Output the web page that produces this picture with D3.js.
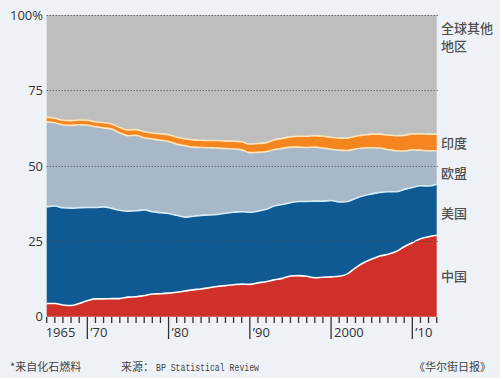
<!DOCTYPE html>
<html><head><meta charset="utf-8">
<script src="https://cdn.jsdelivr.net/npm/d3@7"></script>
<style>
html,body{margin:0;padding:0;background:#eef2f7;}
svg{display:block;}
</style></head>
<body>
<svg id="c" width="500" height="378"></svg>
<script>
const years = d3.range(1965, 2014);
const china = [4.4,4.4,3.9,3.7,4.4,5.3,5.9,5.9,6.0,6.0,6.5,6.6,7.0,7.5,7.6,7.8,8.1,8.5,8.9,9.2,9.6,10.0,10.3,10.6,10.8,10.7,11.2,11.6,12.2,12.7,13.5,13.6,13.4,12.9,13.1,13.2,13.4,14.2,16.2,17.9,19.1,20.1,20.7,21.6,23.2,24.5,25.8,26.5,27.0];
const usa = [32.0,32.3,32.2,32.3,31.7,30.9,30.3,30.5,29.9,29.3,28.5,28.5,28.4,27.3,26.9,26.4,25.5,24.5,24.4,24.4,24.1,23.9,24.0,24.0,24.0,23.9,23.8,24.0,24.5,24.5,24.3,24.6,24.8,25.4,25.2,25.3,24.6,24.0,23.0,22.2,21.6,21.1,20.7,19.8,19.0,18.3,17.6,16.8,16.9];
const europe = [28.2,27.6,27.5,27.4,27.5,27.3,26.8,26.2,26.3,25.6,25.0,25.0,23.9,24.1,24.0,23.9,23.6,23.7,22.9,22.5,22.3,22.0,21.4,21.0,20.5,19.8,19.5,19.1,18.7,18.6,18.4,18.0,17.9,17.9,17.6,17.0,17.2,16.9,16.4,15.8,15.3,14.7,14.0,13.6,12.7,12.5,11.8,11.7,11.1];
const india = [1.5,1.5,1.5,1.6,1.6,1.6,1.6,1.7,1.7,1.8,1.9,1.9,2.0,2.0,2.1,2.2,2.3,2.3,2.4,2.4,2.4,2.5,2.5,2.6,2.7,2.8,2.9,3.0,3.2,3.3,3.4,3.6,3.7,3.8,3.9,4.0,4.0,4.1,4.2,4.3,4.5,4.6,4.8,5.0,5.2,5.3,5.4,5.5,5.5];
const rest = [33.9,34.2,34.9,35.0,34.8,34.9,35.4,35.7,36.1,37.3,38.1,38.0,38.7,39.1,39.4,39.7,40.5,41.0,41.4,41.5,41.6,41.6,41.8,41.8,42.0,42.8,42.6,42.3,41.4,40.9,40.4,40.2,40.2,40.0,40.2,40.5,40.8,40.8,40.2,39.8,39.5,39.5,39.8,40.0,39.9,39.4,39.4,39.5,39.5];
const seriesKeys = ["china","usa","europe","india","rest"];
const seriesLabels = {rest:["全球其他","地区"], india:["印度"], europe:["欧盟"], usa:["美国"], china:["中国"]};
const yTicks = [0,25,50,75,100];
const xMajor = [1970,1980,1990,2000,2010];
const xLabels = [[1965,"1965"],[1970,"’70"],[1980,"’80"],[1990,"’90"],[2000,"2000"],[2010,"’10"]];

const colors = {china:"#d0302a", usa:"#0f5a93", europe:"#a9b8c9", india:"#f5861f", rest:"#bebebe"};

const table = years.map((yr,i)=>({year:yr, china:china[i], usa:usa[i], europe:europe[i], india:india[i], rest:rest[i]}));

const svg = d3.select("#c");
const x = d3.scaleLinear().domain([1965,2013]).range([46.7,436.7]);
const y = d3.scaleLinear().domain([0,100]).range([316.7,15]);

const stack = d3.stack().keys(seriesKeys).offset(d3.stackOffsetExpand);
const layers = stack(table);
const yp = v => y(v*100);

const curve = d3.curveMonotoneX;
const area = d3.area().curve(curve).x(d=>x(d.data.year)).y0(d=>yp(d[0])).y1(d=>yp(d[1]));
const topLine = d3.line().curve(curve).x(d=>x(d.data.year)).y(d=>yp(d[1]));

svg.append("g").selectAll("path").data(layers).join("path")
  .attr("d", area).attr("fill", d=>colors[d.key]);

// boundary lines
const lineStyles = {china:["#ffffff",1.6], usa:["#d6ecf8",1.6], europe:["#fde6bd",1.6], india:["#fde6bd",1.6]};
layers.forEach(l=>{
  if(lineStyles[l.key]){
    svg.append("path").attr("d", topLine(l)).attr("fill","none")
      .attr("stroke", lineStyles[l.key][0]).attr("stroke-width", lineStyles[l.key][1]);
  }
});

// gridlines
svg.append("g").selectAll("line").data(yTicks.filter(t=>t>0)).join("line")
  .attr("x1", x(1965)).attr("x2", x(2013)+1)
  .attr("y1", d=>Math.round(y(d))+0.5).attr("y2", d=>Math.round(y(d))+0.5)
  .attr("stroke","#4a4a4a").attr("stroke-width",1).attr("stroke-dasharray","1,2");

// y labels
svg.append("g").selectAll("text").data(yTicks).join("text")
  .attr("x", 43).attr("y", d=>y(d)).attr("dy","0.36em")
  .attr("text-anchor","end")
  .style("font-family","'Open Sans', 'DejaVu Sans', sans-serif").style("font-size","13px").attr("fill","#333")
  .text(d=> d===100 ? "100%" : d);

// x axis ticks
const ax = svg.append("g");
ax.selectAll("line.minor").data(years).join("line").attr("class","minor")
  .attr("x1", d=>x(d)).attr("x2", d=>x(d))
  .attr("y1", 317).attr("y2", d=> xMajor.includes(d) ? 339 : 323)
  .attr("stroke","#333").attr("stroke-width",1.3);
ax.selectAll("text").data(xLabels).join("text")
  .attr("x", d=> d[0]===1965 ? x(d[0])-1 : x(d[0])+3)
  .attr("y", 337)
  .style("font-family","'Open Sans', 'DejaVu Sans', sans-serif").style("font-size","13px").attr("fill","#333")
  .text(d=>d[1]);

// right labels
const labelPos = {rest:[33,51], india:[148], europe:[178], usa:[218], china:[281]};
const rl = svg.append("g").style("font-family","'Noto Sans CJK SC', sans-serif").style("font-size","13px").style("font-weight","500").attr("fill","#505050");
seriesKeys.forEach(k=>{
  seriesLabels[k].forEach((t,i)=>{
    rl.append("text").attr("x",441).attr("y",labelPos[k][i]).text(t);
  });
});

// footer
const ft = svg.append("g").attr("fill","#444");
ft.append("text").attr("x",10).attr("y",371)
  .style("font-family","'Noto Sans CJK SC', sans-serif").style("font-size","11px").text("*来自化石燃料");
ft.append("text").attr("x",121).attr("y",371)
  .style("font-family","'Noto Sans CJK SC', sans-serif").style("font-size","11px").text("来源：");
ft.append("text").attr("x",156).attr("y",371).attr("textLength",103).attr("lengthAdjust","spacingAndGlyphs")
  .style("font-family","'Liberation Mono', 'DejaVu Sans Mono', monospace").style("font-size","11px").text("BP Statistical Review");
ft.append("text").attr("x",491).attr("y",371).attr("text-anchor","end")
  .style("font-family","'Noto Sans CJK SC', sans-serif").style("font-size","11px").text("《华尔街日报》");
</script>
</body></html>
